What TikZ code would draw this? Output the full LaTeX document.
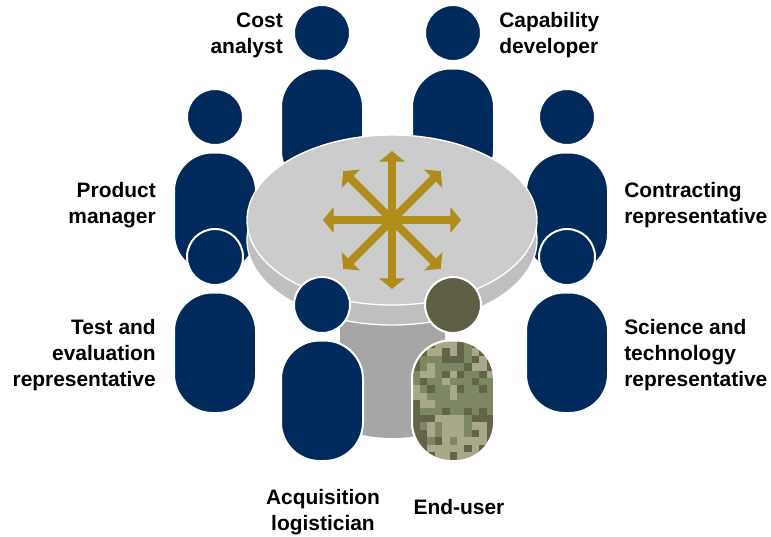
\documentclass[tikz,border=0pt]{standalone}
\usepackage{fontspec}
\setmainfont{Liberation Sans}
\usetikzlibrary{arrows.meta}
\definecolor{navy}{HTML}{002A5C}
\definecolor{gold}{HTML}{B08D18}
\definecolor{olive}{HTML}{5F5F45}
\definecolor{camo0}{HTML}{63634A}
\definecolor{camo1}{HTML}{7D8762}
\definecolor{camo2}{HTML}{A9A98A}
\tikzset{
  lab/.style={font=\bfseries\fontsize{15.7}{19.5}\selectfont,inner sep=0pt},
  outl/.style={draw=white,line width=1.5pt},
  spoke/.style={gold,line width=6pt,-{Triangle[width=19pt,length=8pt]}},
}
% head and body of one person
\newcommand{\person}[3]{
  \fill[#3,outl] (#1,#2+35) circle (28);
  \fill[#3,outl,rounded corners=29pt] (#1-41,#2+70.5) rectangle (#1+41,#2+191);
}
\begin{document}
\begin{tikzpicture}[x=0.75pt,y=-0.75pt]
\useasboundingbox (0,0) rectangle (771,536);
\person{322}{-2}{navy}
\person{453}{-2}{navy}
\person{215}{82}{navy}
\person{567}{82}{navy}
% table
\fill[gray!70!white] (340,300) rectangle (445,420);
\fill[gray!70!white] (392.5,420) ellipse (52.5 and 18);
\fill[gray!50!white,draw=white,line width=1pt] (392,240) ellipse (145 and 85);
\fill[gray!40!white,draw=white,line width=1pt] (392,220) ellipse (145 and 85);
\foreach \a in {0,45,...,315}
  \draw[spoke] (392,220) -- +(\a:69);
\person{215}{222}{navy}
\person{567}{222}{navy}
\person{322}{270}{navy}
\person{453}{270}{olive}
% camouflage of the end-user
\begin{scope}
\clip[rounded corners=29pt] (412,340.5) rectangle (494,461);
\foreach \row [count=\j from 0] in {
  {0,0,0,2,2,2,0,1,0,0,0},
  {0,0,2,2,0,2,0,1,2,0,0},
  {0,1,1,1,0,0,0,1,0,2,0},
  {0,1,2,1,1,1,1,0,2,2,0},
  {1,2,2,1,0,2,0,1,1,0,2},
  {1,0,1,1,2,1,1,1,0,1,1},
  {2,1,0,1,1,2,0,1,1,0,1},
  {2,2,1,1,1,2,1,1,1,1,1},
  {0,2,2,1,1,1,1,1,1,1,1},
  {0,1,1,1,0,1,1,0,1,0,1},
  {0,0,0,2,2,2,2,1,0,0,0},
  {0,1,2,1,2,2,2,1,2,2,0},
  {0,0,2,1,2,2,2,1,0,2,0},
  {0,0,1,0,2,1,2,2,2,2,0},
  {0,0,2,2,2,2,2,0,2,0,0},
  {0,0,0,2,2,0,2,2,2,0,0},
  {0,0,0,0,2,0,2,0,0,0,0}}
  \foreach \c [count=\i from 0] in \row
    \fill[camo\c] (412.5+\i*7.4,341+\j*7.4) rectangle +(7.6,7.6);
\end{scope}
\draw[outl,rounded corners=29pt] (412,340.5) rectangle (494,461);
\node[lab,align=right,anchor=east] (cost) at (283,35) {Cost\\analyst};
\node[lab,align=left,anchor=west] (capability) at (499,35) {Capability\\developer};
\node[lab,align=right,anchor=east] (product) at (156,205) {Product\\manager};
\node[lab,align=left,anchor=west] (contracting) at (624,205) {Contracting\\representative};
\node[lab,align=right,anchor=east] (test) at (156,355) {Test and\\evaluation\\representative};
\node[lab,align=left,anchor=west] (science) at (624,355) {Science and\\technology\\representative};
\node[lab,align=center] (logistician) at (323,512) {Acquisition\\logistician};
\node[lab] (enduser) at (459,507) {End-user};
\end{tikzpicture}
\end{document}
